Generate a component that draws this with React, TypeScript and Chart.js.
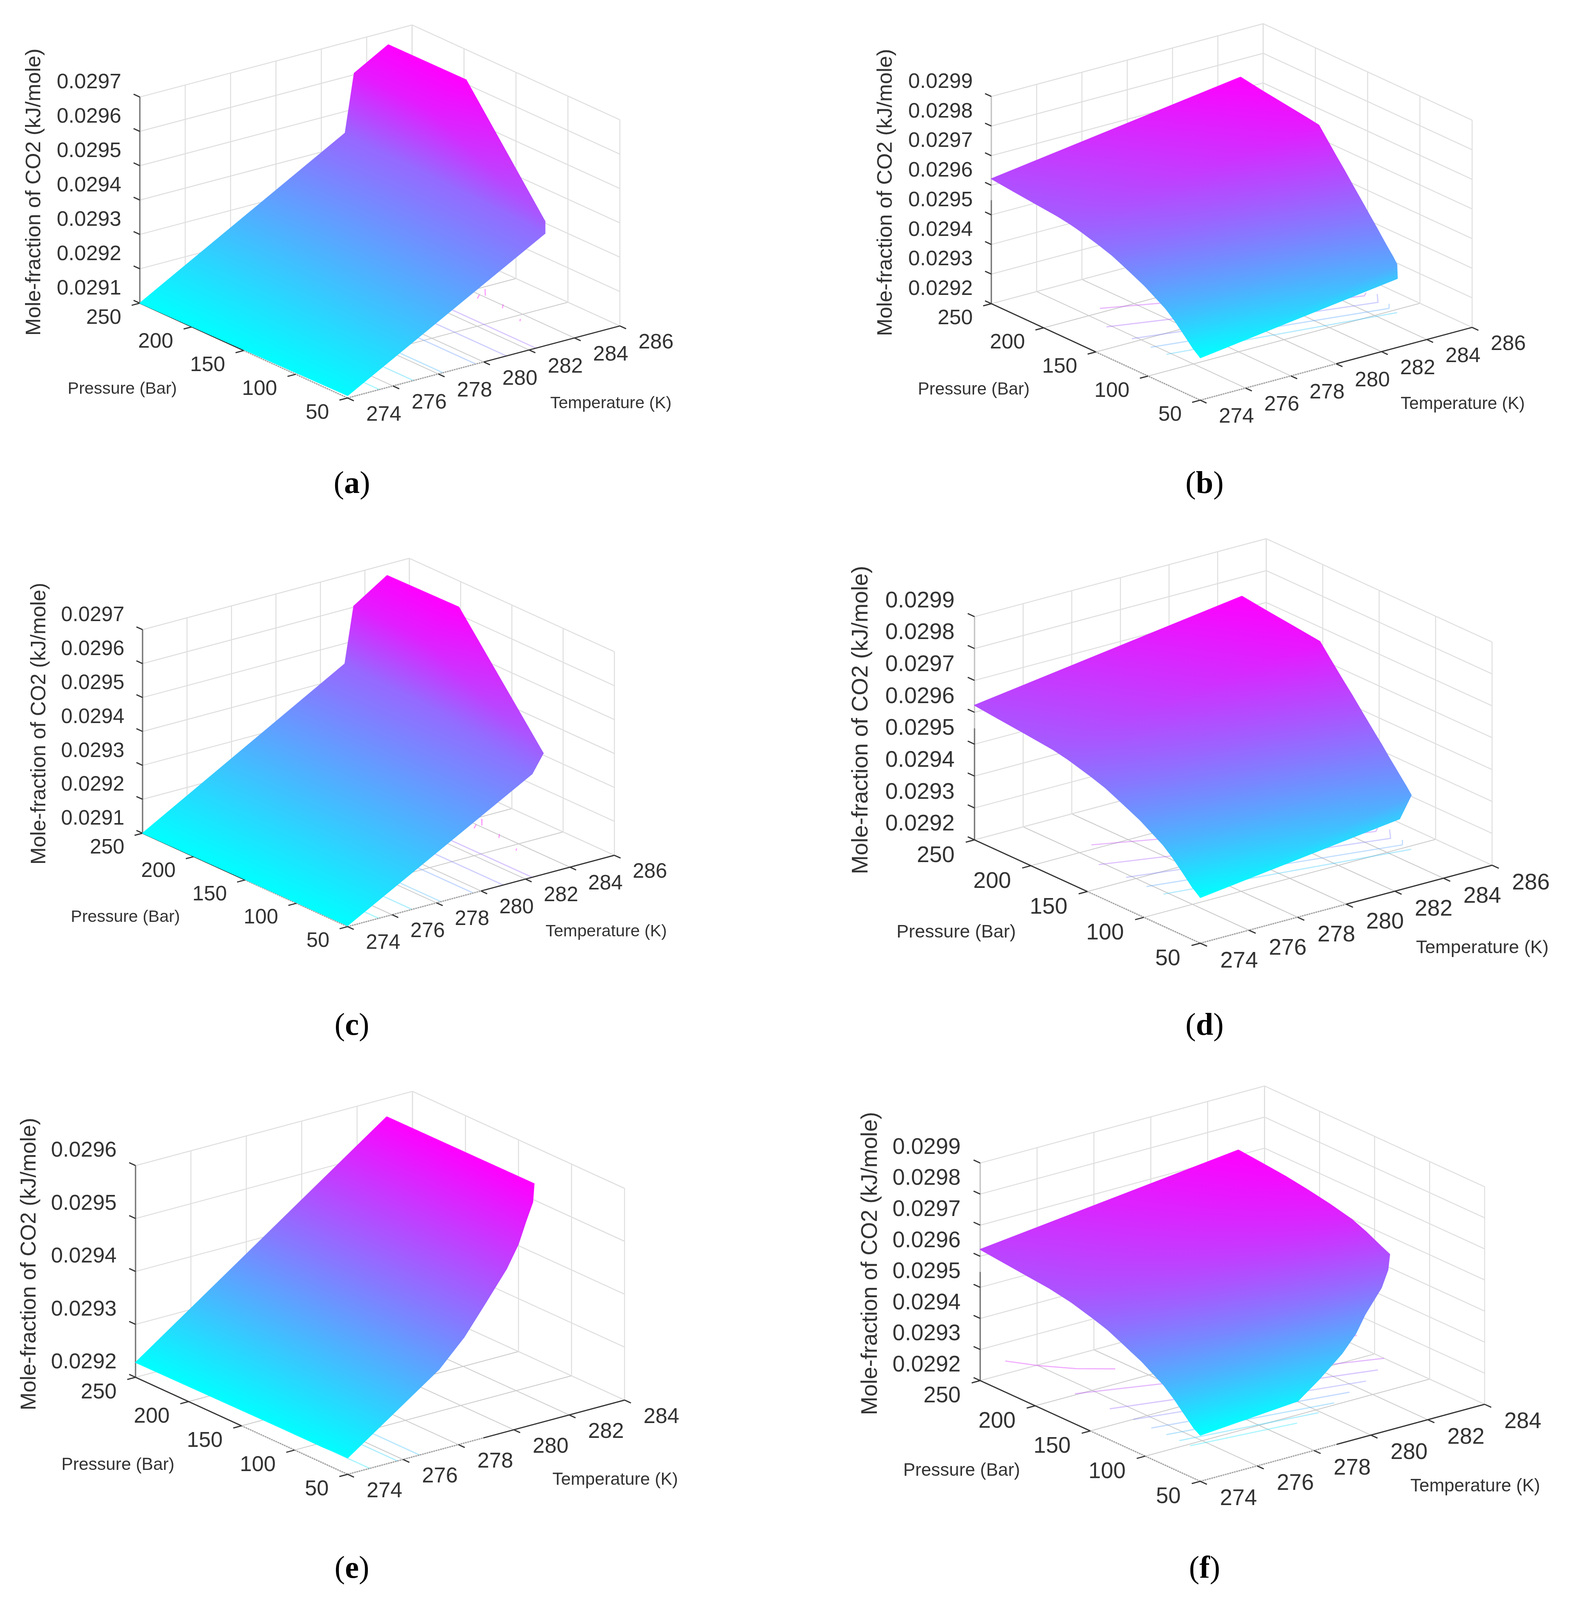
import { useEffect, useRef } from 'react'
import { Chart, registerables } from 'chart.js'

Chart.register(...registerables)

// axis ticks
const pressureTicks = [50, 100, 150, 200, 250]
const tempTicksLong = [274, 276, 278, 280, 282, 284, 286]
const tempTicksShort = [274, 276, 278, 280, 282, 284]
const moleTicksLow = [0.0291, 0.0292, 0.0293, 0.0294, 0.0295, 0.0296, 0.0297]
const moleTicksHigh = [0.0292, 0.0293, 0.0294, 0.0295, 0.0296, 0.0297, 0.0298, 0.0299]
const moleTicksShort = [0.0292, 0.0293, 0.0294, 0.0295, 0.0296]

// surfaces: one row per pressure, temperature and mole fraction along that row
const pressuresA = [50, 175, 250]
const tempsA = [
  [274, 282.7, 282.7, 282.7],
  [274, 283, 283.4, 284.95],
  [274, 283.05, 283.45, 284.95],
]
const molesA = [
  [0.029107, 0.029427, 0.029462, 0.029462],
  [0.029102, 0.02943, 0.0296, 0.029662],
  [0.0291, 0.029437, 0.029604, 0.029661],
]

const pressuresB = [50, 50.5, 57, 66, 74, 83, 93, 103, 120, 134, 147, 167, 175, 187, 207, 229, 250]
const tempsB = [
  [274, 282.7],
  [274, 282.7],
  [274, 282.83],
  [274, 282.99],
  [274, 283.14],
  [274, 283.31],
  [274, 283.49],
  [274, 283.68],
  [274, 283.99],
  [274, 284.25],
  [274, 284.48],
  [274, 284.85],
  [274, 285],
  [274, 285],
  [274, 285],
  [274, 285],
  [274, 285],
]
const molesB = [
  [0.029343, 0.029433],
  [0.029345, 0.02948],
  [0.029364, 0.029492],
  [0.029398, 0.029508],
  [0.029427, 0.029522],
  [0.029455, 0.029538],
  [0.029477, 0.029556],
  [0.029499, 0.029573],
  [0.029528, 0.029603],
  [0.029551, 0.029628],
  [0.029566, 0.029651],
  [0.029586, 0.029686],
  [0.029592, 0.0297],
  [0.029599, 0.029707],
  [0.029606, 0.029717],
  [0.029614, 0.029728],
  [0.029622, 0.02974],
]

const pressuresC = [50, 180, 250]
const tempsC = [
  [274, 282.3, 282.8, 282.8],
  [274, 283, 283.45, 285],
  [274, 283.1, 283.5, 285],
]
const molesC = [
  [0.029103, 0.029405, 0.029457, 0.029457],
  [0.029101, 0.029435, 0.0296, 0.02967],
  [0.0291, 0.02944, 0.029603, 0.029667],
]

const pressuresD = [50, 50.5, 57, 66, 74, 83, 93, 103, 120, 134, 147, 167, 181, 207, 229, 250]
const tempsD = [
  [274, 282.2],
  [274, 282.7],
  [274, 282.82],
  [274, 282.98],
  [274, 283.12],
  [274, 283.28],
  [274, 283.46],
  [274, 283.63],
  [274, 283.93],
  [274, 284.18],
  [274, 284.4],
  [274, 284.75],
  [274, 285],
  [274, 285],
  [274, 285],
  [274, 285],
]
const molesD = [
  [0.029343, 0.029423],
  [0.029345, 0.029486],
  [0.029364, 0.029498],
  [0.029398, 0.029513],
  [0.029427, 0.029527],
  [0.029455, 0.029542],
  [0.029477, 0.02956],
  [0.029499, 0.029577],
  [0.029528, 0.029606],
  [0.029551, 0.02963],
  [0.029566, 0.029652],
  [0.029586, 0.029686],
  [0.029596, 0.02971],
  [0.029606, 0.029721],
  [0.029614, 0.02973],
  [0.029622, 0.02974],
]

const pressuresE = [50, 55, 64, 72.5, 81, 91, 100, 111, 250]
const tempsE = [
  [274, 277.3],
  [274, 278.4],
  [274, 279.55],
  [274, 280.6],
  [274, 281.35],
  [274, 282],
  [274, 282.6],
  [274, 283.07],
  [274, 283.07],
]
const molesE = [
  [0.029231, 0.029352],
  [0.029231, 0.029393],
  [0.029231, 0.029436],
  [0.02923, 0.029475],
  [0.02923, 0.029503],
  [0.02923, 0.029527],
  [0.02923, 0.029548],
  [0.02923, 0.029566],
  [0.029228, 0.029565],
]

const pressuresF = [50, 56, 66, 74, 83, 94, 103, 113, 120, 134, 147, 167, 187, 207, 229, 250]
const tempsF = [
  [274, 277.43],
  [274, 278.4],
  [274, 279.6],
  [274, 280.4],
  [274, 281.08],
  [274, 282.07],
  [274, 282.65],
  [274, 283.1],
  [274, 283.08],
  [274, 283.08],
  [274, 283.08],
  [274, 283.08],
  [274, 283.08],
  [274, 283.08],
  [274, 283.08],
  [274, 283.08],
]
const molesF = [
  [0.029348, 0.029373],
  [0.029362, 0.029408],
  [0.029398, 0.029446],
  [0.029427, 0.029478],
  [0.029455, 0.029509],
  [0.029479, 0.029551],
  [0.029499, 0.02958],
  [0.029516, 0.029603],
  [0.029528, 0.029617],
  [0.029551, 0.029642],
  [0.029566, 0.029661],
  [0.029586, 0.029678],
  [0.029599, 0.029691],
  [0.029606, 0.029702],
  [0.029614, 0.02971],
  [0.029622, 0.029717],
]

// contour lines on the floor: temperature and pressure of each line, colour level
const floorTempsAC = [
  [275.4, 275.4],
  [276.9, 276.9],
  [278.2, 278.2],
  [279.65, 279.65],
  [281, 281],
  [282.3, 282.3],
  [284.5, 284.1],
  [283.7, 284],
  [284.06, 283.8],
  [283.65, 283.5],
]
const floorPressuresAC = [
  [50, 150],
  [50, 150],
  [50, 150],
  [50, 150],
  [50, 150],
  [50, 150],
  [147, 138],
  [137, 141.4],
  [120, 115],
  [94.5, 91.6],
]
const floorLevelsAC = [0.08, 0.18, 0.28, 0.4, 0.5, 0.6, 1, 1, 1, 1]

const floorTempsBD = [
  [276.75, 284.5],
  [275.82, 284.9, 285.13],
  [275.81, 284.89, 285.37],
  [275.82, 284.83, 285.11],
  [275.83, 284.8],
]
const floorPressuresBD = [
  [205.7, 150],
  [179.2, 129.3, 132.7],
  [154.7, 116, 127.2],
  [136.8, 104.1, 110.2],
  [122, 95.8],
]
const floorLevelsBD = [0.75, 0.65, 0.5, 0.35, 0.22]

const floorTempsE = [
  [274.8, 274.8],
  [275.8, 275.8],
  [276.6, 276.6],
]
const floorPressuresE = [
  [50, 120],
  [50, 120],
  [50, 120],
]
const floorLevelsE = [0.1, 0.18, 0.25]

const floorTempsF = [
  [275.5, 276, 276.7, 277.55],
  [284.3, 284.5],
  [275.46, 284],
  [275.5, 283.3],
  [275.5, 282.5],
  [275.49, 281.6],
  [275.5, 280.74],
  [275.5, 279.93],
  [275.49, 278.95],
]
const floorPressuresF = [
  [266, 249.4, 232.5, 219],
  [181, 179],
  [201.6, 141.4],
  [171, 128.9],
  [149.8, 119],
  [133, 110.7],
  [119.6, 102.6],
  [107.8, 95.6],
  [97.8, 89.9],
]
const floorLevelsF = [0.85, 0.85, 0.72, 0.6, 0.5, 0.38, 0.28, 0.18, 0.1]

const FONT = '"Liberation Sans", Arial, sans-serif'
const WALL = '#dedede'
const FLOOR = '#c8c8c8'
const DARK = '#333333'
const PAGE_WIDTH = 4017
const PAGE_HEIGHT = 4353

type Pt = [number, number]

type Panel = {
  id: string
  box: [number, number, number, number]
  front: Pt
  left: Pt
  right: Pt
  zHeight: number
  tempTicks: number[]
  moleTicks: number[]
  pressures: number[]
  temps: number[][]
  moles: number[][]
  floorTemps: number[][]
  floorPressures: number[][]
  floorLevels: number[]
  tSolidFrom: number
  zSolidTo: number
  font: number
  small: number
  zTitle: Pt
  pTitle: Pt
  tTitle: Pt
  caption: Pt
}

const panels: Panel[] = [
  {
    id: 'a', box: [0, 0, 2000, 1450],
    front: [890, 1083], left: [358, 825], right: [1587, 887], zHeight: 561,
    tempTicks: tempTicksLong, moleTicks: moleTicksLow,
    pressures: pressuresA, temps: tempsA, moles: molesA,
    floorTemps: floorTempsAC, floorPressures: floorPressuresAC, floorLevels: floorLevelsAC,
    tSolidFrom: 280, zSolidTo: 0.0297, font: 54, small: 43,
    zTitle: [88, 523], pTitle: [313, 1059], tTitle: [1564, 1098], caption: [901, 1313],
  },
  {
    id: 'b', box: [2000, 0, 2017, 1450],
    front: [3073, 1089], left: [2538, 826.5], right: [3769, 891], zHeight: 564,
    tempTicks: tempTicksLong, moleTicks: moleTicksHigh,
    pressures: pressuresB, temps: tempsB, moles: molesB,
    floorTemps: floorTempsBD, floorPressures: floorPressuresBD, floorLevels: floorLevelsBD,
    tSolidFrom: 280, zSolidTo: 0.02955, font: 54, small: 44,
    zTitle: [2268, 524], pTitle: [2493, 1061], tTitle: [3745, 1100], caption: [3084, 1313],
  },
  {
    id: 'c', box: [0, 1450, 2000, 1500],
    front: [890, 2521], left: [365, 2267], right: [1573, 2327], zHeight: 553.6,
    tempTicks: tempTicksLong, moleTicks: moleTicksLow,
    pressures: pressuresC, temps: tempsC, moles: molesC,
    floorTemps: floorTempsAC, floorPressures: floorPressuresAC, floorLevels: floorLevelsAC,
    tSolidFrom: 280, zSolidTo: 0.0297, font: 53, small: 43,
    zTitle: [101, 1969], pTitle: [321, 2496], tTitle: [1552, 2535], caption: [901, 2787],
  },
  {
    id: 'd', box: [2000, 1450, 2017, 1500],
    front: [3073, 2566], left: [2495, 2285], right: [3820, 2354], zHeight: 607,
    tempTicks: tempTicksLong, moleTicks: moleTicksHigh,
    pressures: pressuresD, temps: tempsD, moles: molesD,
    floorTemps: floorTempsBD, floorPressures: floorPressuresBD, floorLevels: floorLevelsBD,
    tSolidFrom: 280, zSolidTo: 0.02955, font: 58, small: 47,
    zTitle: [2205, 1959], pTitle: [2448, 2537], tTitle: [3795, 2579], caption: [3084, 2787],
  },
  {
    id: 'e', box: [0, 2950, 2000, 1403],
    front: [890, 4011], left: [347, 3747], right: [1599, 3809], zHeight: 576,
    tempTicks: tempTicksShort, moleTicks: moleTicksShort,
    pressures: pressuresE, temps: tempsE, moles: molesE,
    floorTemps: floorTempsE, floorPressures: floorPressuresE, floorLevels: floorLevelsE,
    tSolidFrom: 278.9, zSolidTo: 0.0296, font: 55, small: 44.5,
    zTitle: [76, 3439], pTitle: [302, 3986], tTitle: [1575, 4026], caption: [901, 4264],
  },
  {
    id: 'f', box: [2000, 2950, 2017, 1403],
    front: [3073, 4030], left: [2509.5, 3756], right: [3801, 3820.5], zHeight: 592,
    tempTicks: tempTicksShort, moleTicks: moleTicksHigh,
    pressures: pressuresF, temps: tempsF, moles: molesF,
    floorTemps: floorTempsF, floorPressures: floorPressuresF, floorLevels: floorLevelsF,
    tSolidFrom: 278.8, zSolidTo: 0.02955, font: 57, small: 46,
    zTitle: [2229, 3437.5], pTitle: [2462, 4002], tTitle: [3777, 4044], caption: [3084, 4264],
  },
]

// view of the box, MATLAB style: parallel projection so every axis is a straight vector
function projector(p: Panel) {
  const tMin = p.tempTicks[0]
  const tMax = p.tempTicks[p.tempTicks.length - 1]
  const zMin = p.moleTicks[0]
  const zMax = p.moleTicks[p.moleTicks.length - 1]
  return (t: number, pr: number, z: number) => {
    const u = (t - tMin) / (tMax - tMin)
    const v = (pr - 50) / 200
    const w = (z - zMin) / (zMax - zMin)
    return {
      x: p.front[0] + u * (p.right[0] - p.front[0]) + v * (p.left[0] - p.front[0]),
      y: p.front[1] + u * (p.right[1] - p.front[1]) + v * (p.left[1] - p.front[1]) - w * p.zHeight,
    }
  }
}

const cool = (t: number, a = 1) =>
  `rgba(${Math.round(255 * t)},${Math.round(255 * (1 - t))},255,${a})`

function line(data: any[], color: string, width: number, dash: number[] = []) {
  return {
    data,
    showLine: true,
    borderColor: color,
    borderWidth: width,
    borderDash: dash,
    pointRadius: 0,
    fill: false,
    tension: 0,
  }
}

// one surface triangle; the cool map is linear in rgb so a two stop gradient shades it exactly
function triangle(pts: any[], levels: number[]) {
  const shade = (ctx: any) => {
    const { chart } = ctx
    if (!chart.chartArea) return cool(levels[0])
    const sx = chart.scales.x
    const sy = chart.scales.y
    const [a, b, c] = pts.map((q) => ({ x: sx.getPixelForValue(q.x), y: sy.getPixelForValue(q.y) }))
    const det = (b.x - a.x) * (c.y - a.y) - (c.x - a.x) * (b.y - a.y)
    const d1 = levels[1] - levels[0]
    const d2 = levels[2] - levels[0]
    const gx = (d1 * (c.y - a.y) - d2 * (b.y - a.y)) / det
    const gy = (d2 * (b.x - a.x) - d1 * (c.x - a.x)) / det
    const len = gx * gx + gy * gy
    if (!Number.isFinite(len) || len < 1e-14) return cool(levels[0])
    const s = -levels[0] / len
    const e = (1 - levels[0]) / len
    const grad = chart.ctx.createLinearGradient(a.x + s * gx, a.y + s * gy, a.x + e * gx, a.y + e * gy)
    grad.addColorStop(0, cool(0))
    grad.addColorStop(1, cool(1))
    return grad
  }
  return {
    data: [pts[0], pts[1], pts[2], pts[0]],
    showLine: true,
    fill: 'shape',
    backgroundColor: shade,
    borderColor: shade,
    borderWidth: 2,
    borderJoinStyle: 'round',
    pointRadius: 0,
    tension: 0,
  }
}

function buildDatasets(p: Panel) {
  const at = projector(p)
  const tMin = p.tempTicks[0]
  const tMax = p.tempTicks[p.tempTicks.length - 1]
  const zMin = p.moleTicks[0]
  const zMax = p.moleTicks[p.moleTicks.length - 1]
  const out: any[] = []

  // floor and back walls
  p.tempTicks.forEach((t) => {
    out.push(line([at(t, 50, zMin), at(t, 250, zMin)], FLOOR, 2))
    if (t > tMin) out.push(line([at(t, 250, zMin), at(t, 250, zMax)], WALL, 2.5))
  })
  pressureTicks.forEach((pr) => {
    out.push(line([at(tMin, pr, zMin), at(tMax, pr, zMin)], FLOOR, 2))
    out.push(line([at(tMax, pr, zMin), at(tMax, pr, zMax)], WALL, 2.5))
  })
  p.moleTicks.forEach((z) => {
    out.push(line([at(tMin, 250, z), at(tMax, 250, z)], WALL, 2.5))
    out.push(line([at(tMax, 50, z), at(tMax, 250, z)], WALL, 2.5))
  })

  // contours under the surface
  p.floorTemps.forEach((temps, i) => {
    const pts = temps.map((t, k) => at(t, p.floorPressures[i][k], zMin))
    out.push(line(pts, cool(p.floorLevels[i], 0.38), 3))
  })

  // axes and ticks
  out.push(line([at(tMin, 250, zMin), at(tMin, 250, p.zSolidTo)], '#777777', 3.5))
  if (p.zSolidTo < zMax) out.push(line([at(tMin, 250, p.zSolidTo), at(tMin, 250, zMax)], '#c4c4c4', 3.5))
  out.push(line([at(tMin, 250, zMin), at(tMin, 150, zMin)], DARK, 3))
  out.push(line([at(tMin, 150, zMin), at(tMin, 50, zMin)], '#a0a0a0', 3.5, [3, 3]))
  out.push(line([at(tMin, 50, zMin), at(p.tSolidFrom, 50, zMin)], '#a0a0a0', 3.5, [3, 3]))
  out.push(line([at(p.tSolidFrom, 50, zMin), at(tMax, 50, zMin)], DARK, 3))
  const tSpan = tMax - tMin
  p.tempTicks.forEach((t) => out.push(line([at(t, 50, zMin), at(t, 44, zMin)], DARK, 3)))
  pressureTicks.forEach((pr) => out.push(line([at(tMin, pr, zMin), at(tMin - 0.03 * tSpan, pr, zMin)], DARK, 3)))
  p.moleTicks.forEach((z) => out.push(line([at(tMin, 250, z), at(tMin, 256, z)], DARK, 3)))

  // surface, back cells first
  const flat = p.moles.flat()
  const lo = Math.min(...flat)
  const hi = Math.max(...flat)
  const level = (z: number) => (z - lo) / (hi - lo)
  for (let i = p.pressures.length - 2; i >= 0; i--) {
    for (let j = p.temps[0].length - 2; j >= 0; j--) {
      const corners: Pt[] = [[i, j], [i, j + 1], [i + 1, j + 1], [i + 1, j]]
      const cell = corners.map(([r, c]) => ({
        pt: at(p.temps[r][c], p.pressures[r], p.moles[r][c]),
        lv: level(p.moles[r][c]),
      }))
      for (const tri of [[cell[2], cell[3], cell[1]], [cell[1], cell[3], cell[0]]]) {
        const [a, b, c] = tri.map((q) => q.pt)
        const area = Math.abs((b.x - a.x) * (c.y - a.y) - (c.x - a.x) * (b.y - a.y))
        if (area < 1) continue
        out.push(triangle(tri.map((q) => q.pt), tri.map((q) => q.lv)))
      }
    }
  }
  // chart.js paints the first dataset last
  return out.reverse()
}

function textPlugin(p: Panel) {
  const at = projector(p)
  const tMin = p.tempTicks[0]
  const zMin = p.moleTicks[0]
  return {
    id: 'axisText',
    afterDraw(chart: any) {
      const { ctx } = chart
      const sx = chart.scales.x
      const sy = chart.scales.y
      const put = (s: string, x: number, y: number, align: CanvasTextAlign) => {
        ctx.textAlign = align
        ctx.fillText(s, sx.getPixelForValue(x), sy.getPixelForValue(y))
      }
      const gap = p.font * 0.88
      ctx.save()
      ctx.fillStyle = DARK
      ctx.textBaseline = 'middle'
      ctx.font = `${p.font}px ${FONT}`
      p.moleTicks.forEach((z) => {
        const q = at(tMin, 250, z)
        put(z.toFixed(4), q.x - gap, q.y - p.font * 0.73, 'right')
      })
      p.tempTicks.forEach((t) => {
        const q = at(t, 50, zMin)
        put(String(t), q.x + gap, q.y + p.font * 0.85, 'left')
      })
      pressureTicks.forEach((pr) => {
        const q = at(tMin, pr, zMin)
        put(String(pr), q.x - gap, q.y + p.font * 0.75, 'right')
      })
      ctx.font = `${p.small}px ${FONT}`
      put('Pressure (Bar)', p.pTitle[0], p.pTitle[1], 'center')
      put('Temperature (K)', p.tTitle[0], p.tTitle[1], 'center')
      ctx.font = `${p.font}px ${FONT}`
      ctx.translate(sx.getPixelForValue(p.zTitle[0]), sy.getPixelForValue(p.zTitle[1]))
      ctx.rotate(-Math.PI / 2)
      ctx.textAlign = 'center'
      ctx.fillText('Mole-fraction of CO2 (kJ/mole)', 0, 0)
      ctx.restore()
    },
  }
}

function SurfacePanel({ panel, fit }: { panel: Panel; fit: number }) {
  const canvasRef = useRef<HTMLCanvasElement>(null)
  const [left, top, width, height] = panel.box
  const canvasTop = Math.round(top * fit)
  const canvasHeight = Math.round((top + height) * fit) - canvasTop

  useEffect(() => {
    const chart = new Chart(canvasRef.current as HTMLCanvasElement, {
      type: 'scatter',
      data: { datasets: buildDatasets(panel) },
      options: {
        animation: false,
        responsive: false,
        devicePixelRatio: 1,
        parsing: false,
        events: [],
        layout: { padding: 0 },
        scales: {
          x: { type: 'linear', display: false, min: left, max: left + width },
          y: { type: 'linear', display: false, reverse: true, min: top, max: top + height },
        },
        plugins: { legend: { display: false }, tooltip: { enabled: false } },
      },
      plugins: [textPlugin(panel)],
    } as any)
    return () => chart.destroy()
  }, [panel, fit])

  return (
    <>
      <canvas
        ref={canvasRef}
        width={width}
        height={canvasHeight}
        style={{ position: 'absolute', left, top: canvasTop, width, height: canvasHeight, display: 'block' }}
      />
      <div
        style={{
          position: 'absolute',
          left: panel.caption[0],
          top: panel.caption[1] * fit,
          transform: 'translate(-50%, -50%)',
          font: '80px "Liberation Serif", serif',
          color: '#000',
        }}
      >
        (<b>{panel.id}</b>)
      </div>
    </>
  )
}

export default function App() {
  // the browser can give a window shorter than the page, so fit the y scales to what it has
  const pageHeight = Math.min(PAGE_HEIGHT, window.innerHeight || PAGE_HEIGHT)
  const fit = pageHeight / PAGE_HEIGHT

  useEffect(() => {
    document.body.style.margin = '0'
    document.body.style.background = '#fff'
  }, [])

  return (
    <div style={{ position: 'relative', width: PAGE_WIDTH, height: pageHeight, overflow: 'hidden' }}>
      {panels.map((p) => (
        <SurfacePanel key={p.id} panel={p} fit={fit} />
      ))}
    </div>
  )
}
